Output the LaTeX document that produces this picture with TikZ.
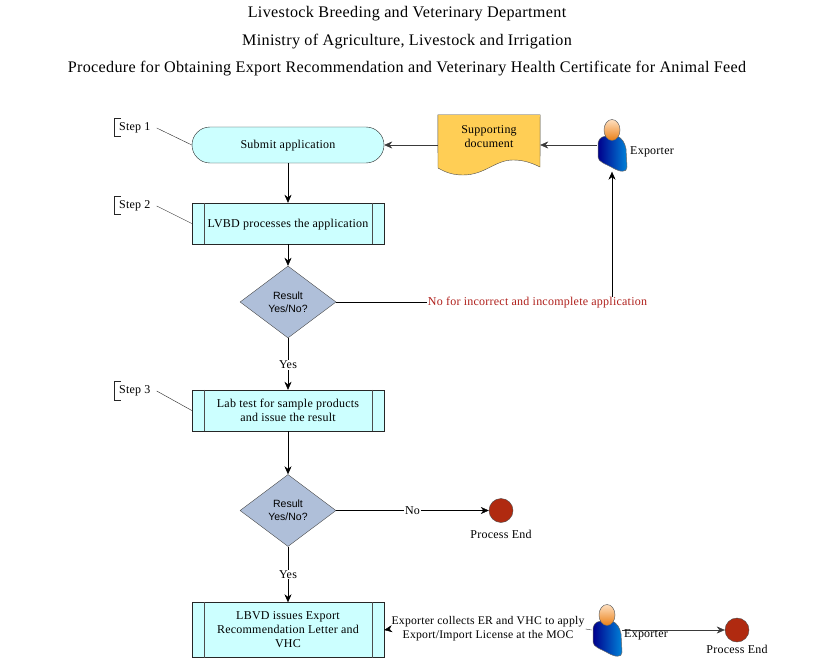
\documentclass[tikz,border=0pt]{standalone}
\usepackage{fontspec}
\setmainfont{Liberation Serif}[LetterSpace=2]
\newfontfamily\diafont{Liberation Sans}
\usetikzlibrary{positioning, arrows.meta, shapes.geometric, calc}
\definecolor{boxcyan}{HTML}{CCFFFF}
\definecolor{docyellow}{HTML}{FFCE55}
\definecolor{diamondblue}{HTML}{AFBFD9}
\definecolor{endred}{HTML}{B02A10}
\definecolor{norep}{HTML}{B0201C}
\definecolor{linegray}{HTML}{3A3A3A}
\tikzset{
->, % all connectors are directed
>={Stealth[length=8pt, width=7pt]}, % bold arrow heads
line width=0.8pt,
x=1pt, y=-1pt, % same numbers as the pixels of the page
every node/.style={font=\fontsize{12}{14}\selectfont, text=black},
title/.style={font=\fontsize{16.15}{19}\selectfont},
startbox/.style={draw=black!85, fill=boxcyan, rounded corners=18pt, minimum width=192pt, minimum height=36pt, inner sep=0pt, text height=10pt},
procbox/.style={draw=black!85, fill=boxcyan, minimum width=192pt, align=center, inner sep=0pt},
decision/.style={draw=black!70, fill=diamondblue, diamond, aspect=1.33, minimum width=96pt, minimum height=72pt, inner sep=0pt, align=center, font=\diafont\fontsize{10.5}{13}\selectfont},
endnode/.style={circle, draw=black!70, fill=endred, minimum size=24pt, inner sep=0pt},
stepline/.style={-, black!85},
person/.style={minimum width=30pt, minimum height=53pt, inner sep=0pt},
}
\newcommand{\procbars}[1]{%
\draw[-, black!70] ($(#1.north west)+(12,0)$) -- ($(#1.south west)+(12,0)$);
\draw[-, black!70] ($(#1.north east)+(-12,0)$) -- ($(#1.south east)+(-12,0)$);
}
\newcommand{\drawperson}[1]{%
\draw[-, draw=black!60, line width=0.5pt, left color=blue!55!black, right color=blue!40!cyan!85!black]
 ($(#1.center)+(-14,-2)$) .. controls ($(#1.center)+(-13,-8)$) and ($(#1.center)+(-8,-9)$) .. ($(#1.center)+(-4,-9)$)
 -- ($(#1.center)+(5,-9)$) .. controls ($(#1.center)+(10,-7)$) and ($(#1.center)+(13,-2)$) .. ($(#1.center)+(14,4)$)
 -- ($(#1.center)+(15,22)$) .. controls ($(#1.center)+(15,28)$) and ($(#1.center)+(8,27)$) .. ($(#1.center)+(1,23)$)
 .. controls ($(#1.center)+(-6,19)$) and ($(#1.center)+(-14,17)$) .. ($(#1.center)+(-14,12)$) -- cycle;
\draw[-, black!60, line width=0.5pt, top color=orange!25, bottom color=orange!65!brown] ($(#1.center)+(0,-15)$) ellipse (8pt and 10.5pt);
}
\begin{document}
\begin{tikzpicture}
\useasboundingbox (0,0) rectangle (816,658);
% titles
\node[title] (title1) at (407,13.5) {Livestock Breeding and Veterinary Department};
\node[title] (title2) at (407,41.5) {Ministry of Agriculture, Livestock and Irrigation};
\node[title] (title3) at (407,68.5) {Procedure for Obtaining Export Recommendation and Veterinary Health Certificate for Animal Feed};
% flow
\node[startbox] (submit) at (288,145) {Submit application};
\node[procbox, minimum height=41pt, text height=10pt] (lvbd) at (288,223.5) {LVBD processes the application};
\node[decision] (result1) at (288,302) {Result\\Yes/No?};
\node[procbox, minimum height=41pt] (labtest) at (288,410.5) {Lab test for sample products\\and issue the result};
\node[decision] (result2) at (288,510.5) {Result\\Yes/No?};
\node[procbox, minimum height=55pt] (issue) at (288,630) {LBVD issues Export\\Recommendation Letter and\\VHC};
\procbars{lvbd}
\procbars{labtest}
\procbars{issue}
% supporting document
\node[inner sep=0pt, minimum width=102pt, minimum height=60pt] (doc) at (489,145) {};
\draw[-, draw=black!70, fill=docyellow] (doc.north west) -- (doc.north east) -- (540,167)
 .. controls (530,162) and (522,160) .. (513,160) .. controls (495,160) and (485,175) .. (463,175)
 .. controls (452,175) and (445,172) .. (438,168) -- cycle;
\node[align=center] (doctext) at (489,137) {Supporting\\document};
% people
\node[person] (exporter1) at (612,145) {};
\drawperson{exporter1}
\node[anchor=west, inner sep=0pt] (exportername1) at (630,151.5) {Exporter};
\node[person] (exporter2) at (607,630) {};
\drawperson{exporter2}
% ends
\node[endnode] (end1) at (501,510.5) {};
\node (endtext1) at (501,534) {Process End};
\node[endnode] (end2) at (737,630) {};
\node (endtext2) at (737,649) {Process End};
% steps
\draw[-, black!85] (121,118) -- (114,118) -- (114,136) -- (121,136);
\node[anchor=west, inner sep=0pt] (step1) at (119,128) {Step 1};
\draw[-, black!85] (121,196) -- (114,196) -- (114,214) -- (121,214);
\node[anchor=west, inner sep=0pt] (step2) at (119,206) {Step 2};
\draw[-, black!85] (121,381) -- (114,381) -- (114,400) -- (121,400);
\node[anchor=west, inner sep=0pt] (step3) at (119,391) {Step 3};
\draw[stepline] (step1.east)++(6,0) -- (submit.west);
\draw[stepline] (step2.east)++(6,0) -- (lvbd.west);
\draw[stepline] (step3.east)++(6,0) -- (labtest.west);
% connectors
\draw (submit) -- (lvbd);
\draw (lvbd) -- (result1);
\draw (result1) -- node[fill=white, inner sep=1pt, pos=.5, yshift=-1pt] (yes1) {Yes} (labtest);
\draw (labtest) -- (result2);
\draw (result2) -- node[fill=white, inner sep=1pt, pos=.5] (yes2) {Yes} (issue);
\draw (result2) -- node[fill=white, inner sep=1pt] (no2) {No} (end1);
\draw[linegray] (doc.west) -- (submit.east);
\draw[linegray] (exporter1.west) -- (doc.east);
\draw (result1.east) -| node[pos=.365, fill=white, inner sep=1pt, text=norep, yshift=-1pt] (no1) {No for incorrect and incomplete application} (exporter1.south);
\node[align=center, fill=white, inner sep=1pt, font=\fontsize{11.7}{14}\selectfont] (collect) at (488,629) {Exporter collects ER and VHC to apply\\Export/Import License at the MOC};
\draw (collect.west) -- (issue.east);
\draw[-, linegray] (collect.east) -- (exporter2.west);
\draw[linegray] (exporter2.east) -- (end2);
\node[anchor=west, inner sep=0pt] (exportername2) at (624,635) {Exporter};
\end{tikzpicture}
\end{document}
